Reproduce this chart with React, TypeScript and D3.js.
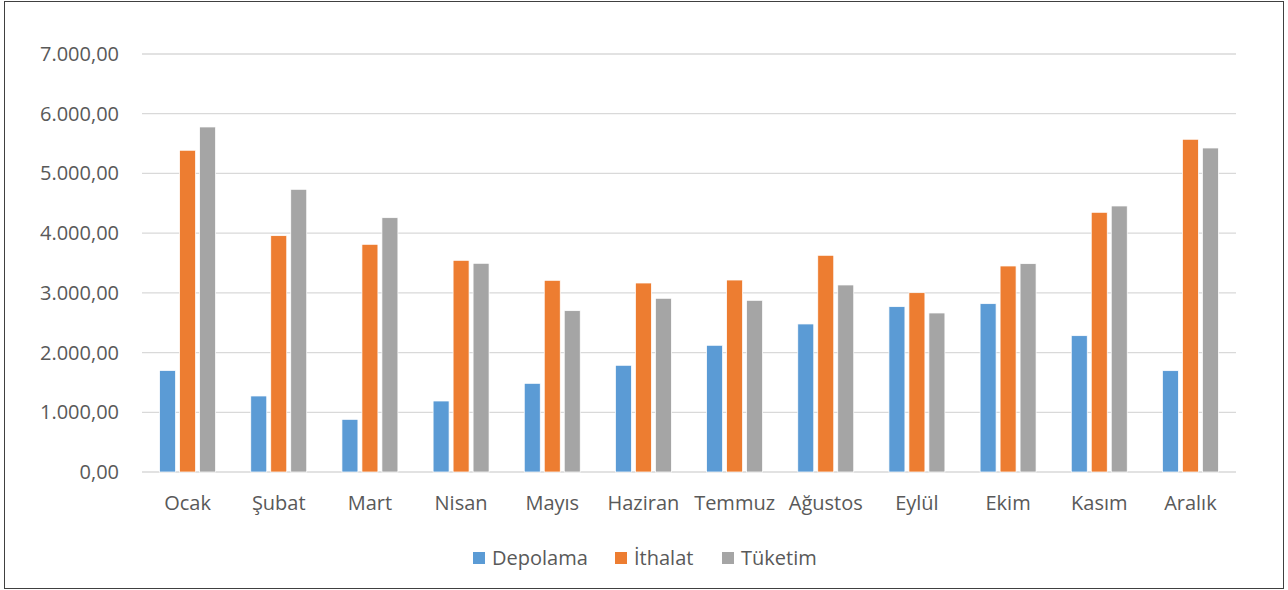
import React from "react";
import * as d3 from "d3";

const categories = ["Ocak", "Şubat", "Mart", "Nisan", "Mayıs", "Haziran", "Temmuz", "Ağustos", "Eylül", "Ekim", "Kasım", "Aralık"];
const seriesNames = ["Depolama", "İthalat", "Tüketim"];
const depolama = [1700, 1273, 882, 1189, 1485, 1787, 2122, 2479, 2769, 2819, 2283, 1697];
const ithalat = [5388, 3958, 3813, 3545, 3210, 3165, 3215, 3629, 3003, 3450, 4349, 5572];
const tuketim = [5778, 4734, 4259, 3495, 2702, 2909, 2875, 3132, 2663, 3489, 4455, 5426];
const yTicks = [0, 1000, 2000, 3000, 4000, 5000, 6000, 7000];
const colors = ["#5B9BD5", "#ED7D31", "#A5A5A5"];

const W = 1288;
const H = 590;
const plotLeft = 142;
const plotRight = 1236;
const plotTop = 54;
const plotBottom = 472;
const FONT = "'Open Sans', sans-serif";
const TEXT = "#595959";

const fmt = (v: number) => {
  const s = v.toFixed(2).replace(".", ",");
  const [i, d] = s.split(",");
  return i.replace(/\B(?=(\d{3})+(?!\d))/g, ".") + "," + d;
};

export default function App() {
  const data = [depolama, ithalat, tuketim];
  const x0 = d3.scaleBand<string>().domain(categories).range([plotLeft, plotRight]).paddingInner(0.386).paddingOuter(0.193);
  const x1 = d3.scaleBand<string>().domain(seriesNames).range([0, x0.bandwidth()]).paddingInner(0.2).paddingOuter(0);
  const y = d3.scaleLinear().domain([0, 7000]).range([plotBottom, plotTop]);

  const legendItems = [
    { name: seriesNames[0], x: 473, color: colors[0] },
    { name: seriesNames[1], x: 615, color: colors[1] },
    { name: seriesNames[2], x: 722, color: colors[2] },
  ];

  return (
    <div style={{ position: "absolute", left: 0, top: 0 }}>
      <svg width={W} height={H} style={{ display: "block" }}>
        <rect x={0} y={0} width={W} height={H} fill="#fff" />
        <rect x={4.5} y={1.5} width={1279} height={587} fill="none" stroke="#404040" strokeWidth={1} />
        {yTicks.map((t) => (
          <g key={t}>
            <line x1={plotLeft} x2={plotRight} y1={y(t)} y2={y(t)} stroke="#D9D9D9" strokeWidth={1.3} />
            <text x={119} y={y(t)} dy="0.35em" textAnchor="end" fontFamily={FONT} fontSize={20} fill={TEXT}>
              {fmt(t)}
            </text>
          </g>
        ))}
        {categories.map((c, ci) => (
          <g key={c} transform={`translate(${x0(c)},0)`}>
            {seriesNames.map((s, si) => (
              <rect
                key={s}
                x={x1(s)}
                y={y(data[si][ci])}
                width={x1.bandwidth()}
                height={plotBottom - y(data[si][ci])}
                fill={colors[si]}
                stroke="#fff"
                strokeWidth={0.75}
              />
            ))}
            <text
              x={x0.bandwidth() / 2}
              y={503}
              dy="0.35em"
              textAnchor="middle"
              fontFamily={FONT}
              fontSize={20}
              fill={TEXT}
            >
              {c}
            </text>
          </g>
        ))}
        {legendItems.map((l) => (
          <g key={l.name}>
            <rect x={l.x} y={552} width={12} height={12} fill={l.color} />
            <text x={l.x + 19} y={558} dy="0.35em" fontFamily={FONT} fontSize={20} fill={TEXT}>
              {l.name}
            </text>
          </g>
        ))}
      </svg>
    </div>
  );
}
